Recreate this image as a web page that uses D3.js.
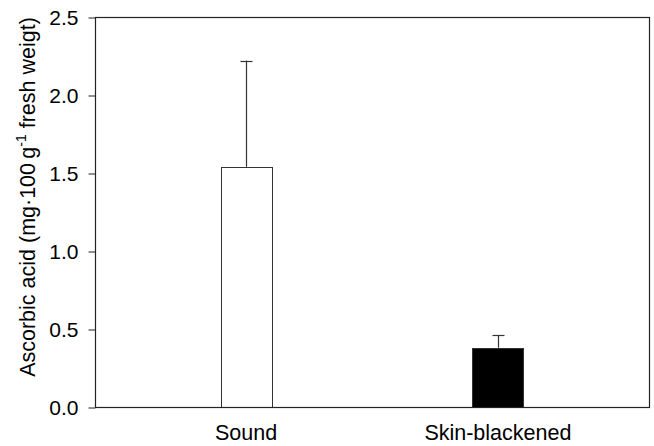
<!DOCTYPE html>
<html lang="en">
<head>
  <meta charset="UTF-8">
  <title>Ascorbic acid</title>
  <script src="https://d3js.org/d3.v7.min.js"></script>
  <style>
    body {
      margin: 0;
      background: #fff;
      font-family: "Liberation Sans", Arial, sans-serif;
    }
  </style>
</head>
<body>
  <svg id="chart" width="654" height="446"></svg>
  <script>
const categories = ["Sound", "Skin-blackened"];
const means = [1.54, 0.38];
const errors = [0.68, 0.08];
const fills = ["#ffffff", "#000000"];
const yTicks = [0, 0.5, 1.0, 1.5, 2.0, 2.5];

const svg = d3.select("#chart");
const plotLeft = 95, plotRight = 649, plotTop = 17, plotBottom = 407;

const x = d3.scalePoint()
  .domain(categories)
  .range([plotLeft, plotRight])
  .padding(0.6);

const y = d3.scaleLinear()
  .domain([0, 2.5])
  .range([plotBottom, plotTop]);

const barWidth = 51;
const capWidth = 12;

const data = categories.map((c, i) => ({ cat: c, mean: means[i], err: errors[i], fill: fills[i] }));

// error bars (drawn first, bar covers the lower part)
svg.append("g")
  .selectAll("line")
  .data(data)
  .enter()
  .append("line")
  .attr("x1", d => Math.round(x(d.cat)) + 0.5)
  .attr("x2", d => Math.round(x(d.cat)) + 0.5)
  .attr("y1", d => y(d.mean))
  .attr("y2", d => y(d.mean + d.err))
  .attr("stroke", "#333")
  .attr("stroke-width", 1.2);

svg.append("g")
  .selectAll("line")
  .data(data)
  .enter()
  .append("line")
  .attr("x1", d => Math.round(x(d.cat)) + 0.5 - capWidth / 2)
  .attr("x2", d => Math.round(x(d.cat)) + 0.5 + capWidth / 2)
  .attr("y1", d => Math.round(y(d.mean + d.err)) + 0.5)
  .attr("y2", d => Math.round(y(d.mean + d.err)) + 0.5)
  .attr("stroke", "#333")
  .attr("stroke-width", 1.2);

svg.append("g")
  .selectAll("rect")
  .data(data)
  .enter()
  .append("rect")
  .attr("x", d => Math.round(x(d.cat) - barWidth / 2) + 0.5)
  .attr("y", d => Math.round(y(d.mean)) + 0.5)
  .attr("width", barWidth)
  .attr("height", d => plotBottom - Math.round(y(d.mean)))
  .attr("fill", d => d.fill)
  .attr("stroke", "#333")
  .attr("stroke-width", 1);

// frame
svg.append("rect")
  .attr("x", plotLeft + 0.5)
  .attr("y", plotTop + 0.5)
  .attr("width", plotRight - plotLeft)
  .attr("height", plotBottom - plotTop)
  .attr("fill", "none")
  .attr("stroke", "#222")
  .attr("stroke-width", 1.2);

// y axis
const yAxis = svg.append("g")
  .attr("transform", `translate(${plotLeft + 0.5},0.5)`)
  .call(d3.axisLeft(y).tickValues(yTicks).tickFormat(d3.format(".1f")).tickSize(7).tickPadding(10));
yAxis.select(".domain").remove();
yAxis.selectAll("line").attr("stroke", "#222");
yAxis.selectAll("text")
  .attr("font-family", "'Liberation Sans', Arial, sans-serif")
  .attr("font-size", 21)
  .attr("fill", "#000");

// x labels
svg.append("g")
  .selectAll("text")
  .data(categories)
  .enter()
  .append("text")
  .attr("x", d => x(d))
  .attr("y", 440)
  .attr("text-anchor", "middle")
  .attr("font-size", 21.5)
  .attr("fill", "#000")
  .text(d => d);

// y label
const yLabel = svg.append("text")
  .attr("transform", "translate(35,197) rotate(-90)")
  .attr("text-anchor", "middle")
  .attr("font-size", 21.5)
  .attr("fill", "#000");
yLabel.append("tspan").text("Ascorbic acid (mg\u00b7100\u2009g");
yLabel.append("tspan").attr("dy", -9).attr("font-size", 14).text("-1");
yLabel.append("tspan").attr("dy", 9).text(" fresh weigt)");
  </script>
</body>
</html>
